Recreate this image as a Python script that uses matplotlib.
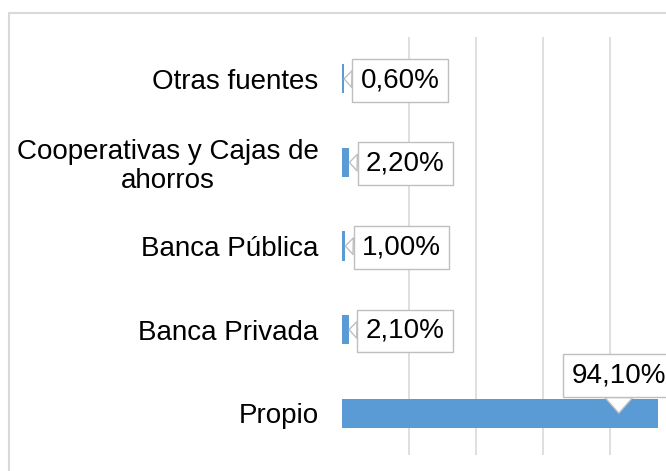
import matplotlib
matplotlib.use('Agg')
import matplotlib.pyplot as plt
from matplotlib.patches import Rectangle
from matplotlib.transforms import offset_copy

# data, bottom to top #
categorias = ['Propio', 'Banca Privada', 'Banca Pública',
              'Cooperativas y Cajas de\nahorros', 'Otras fuentes']
valores = [94.1, 2.1, 1.0, 2.2, 0.6]
ticks_x = [20, 40, 60, 80, 100]

azul = '#5b9bd5'
gris = '#d9d9d9'
plt.rcParams['font.family'] = ['Liberation Sans', 'DejaVu Sans']

fig = plt.figure(figsize=(6.66, 4.71), dpi=100)
ax = fig.add_axes([342/666, 16/471, 335.5/666, 418/471])

pos = list(range(len(categorias)))
ax.barh(pos, valores, height=0.35, color=azul, zorder=2)

ax.set_xlim(0, 100)
ax.set_ylim(-0.5, len(categorias) - 0.5)
ax.set_xticks(ticks_x)
ax.set_xticklabels([])
ax.grid(axis='x', color=gris, linewidth=1.2, zorder=0)
ax.tick_params(axis='both', length=0)
ax.tick_params(axis='y', pad=17, labelsize=20)
ax.set_yticks(pos)
ax.set_yticklabels(categorias, multialignment='center', linespacing=1.15)
for s in ax.spines.values():
    s.set_visible(False)

# callout labels #
caja = dict(boxstyle='square,pad=0.3', fc='white', ec='#bfbfbf', lw=1)
for i, v in enumerate(valores):
    txt = ('%.2f' % v).replace('.', ',') + '%'
    if v > 50:
        # pointer goes a bit inside the big bar
        punta = offset_copy(ax.transData, fig=fig, x=-28, y=0, units='points')
        ax.annotate(txt, xy=(v, i), xycoords=punta, xytext=(0, 27),
                    textcoords='offset points', ha='center', va='center',
                    fontsize=20, bbox=caja, zorder=5, annotation_clip=False,
                    arrowprops=dict(arrowstyle='wedge,tail_width=1.0',
                                    fc='white', ec='#bfbfbf', lw=1,
                                    shrinkA=0, shrinkB=0))
    else:
        ax.annotate(txt, xy=(v, i), xytext=(12, -1),
                    textcoords='offset points', ha='left', va='center',
                    fontsize=20, bbox=caja, zorder=5,
                    arrowprops=dict(arrowstyle='wedge,tail_width=0.6',
                                    fc='white', ec='#bfbfbf', lw=1,
                                    shrinkA=0, shrinkB=0))

# outer chart border #
fig.patches.append(Rectangle((8.5/666, -0.05), 1.2, (471 - 12.5)/471 + 0.05,
                             transform=fig.transFigure, fill=False,
                             ec=gris, lw=1.5))

fig.savefig('out.png', dpi=100)
